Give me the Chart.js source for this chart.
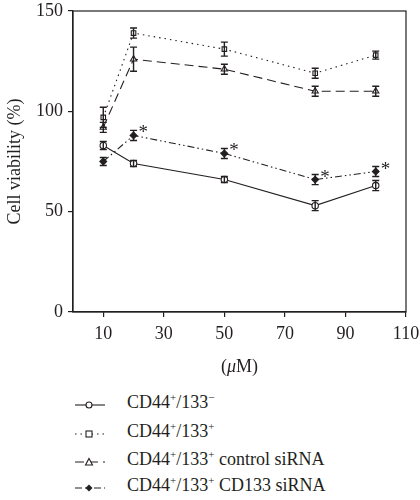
<!DOCTYPE html>
<html>
<head>
<meta charset="utf-8">
<script src="https://cdn.jsdelivr.net/npm/chart.js@4"></script>
<style>
  body { margin:0; background:#fff; width:420px; height:500px; overflow:hidden; font-family:"Liberation Serif", serif; color:#231f20; }
  #legend { position:absolute; left:0; top:392px; width:420px; }
  .row { position:absolute; left:0; height:26px; width:420px; }
  .row svg { position:absolute; left:74px; top:7px; }
  .row span { position:absolute; left:127px; top:0; font-size:18px; white-space:nowrap; }
  sup { font-size:11px; line-height:0; }
</style>
</head>
<body>
<canvas id="chart" width="420" height="385"></canvas>
<div id="legend"></div>
<script>
const doses = [10, 20, 50, 80, 100];
const xTicks = [10, 30, 50, 70, 90, 110];
const yTicks = [0, 50, 100, 150];

const negValues = [83, 74, 66, 53, 63];
const negErr = [2, 1.5, 1.5, 2.5, 2.5];
const posValues = [97, 139, 131, 119, 128];
const posErr = [5, 2.5, 3.5, 2.5, 2];
const ctrlValues = [92, 126, 121, 110, 110];
const ctrlErr = [2.5, 6, 2.5, 2.5, 2.5];
const kdValues = [75, 88, 79, 66, 70];
const kdErr = [2, 2.5, 2.5, 2.5, 2.5];
const kdStars = [false, true, true, true, true];

const seriesNames = [
  "CD44<sup>+</sup>/133<sup>−</sup>",
  "CD44<sup>+</sup>/133<sup>+</sup>",
  "CD44<sup>+</sup>/133<sup>+</sup> control siRNA",
  "CD44<sup>+</sup>/133<sup>+</sup> CD133 siRNA"
];

const ink = "#231f20";
const serif = "'Liberation Serif', serif";

function pts(vals) {
  return doses.map((d, i) => ({ x: d, y: vals[i] }));
}

function makeSet(name, vals, errs, dash, style, filled, radius) {
  return {
    label: name,
    data: pts(vals),
    errs: errs,
    borderColor: ink,
    borderWidth: 1.1,
    borderDash: dash,
    pointStyle: style,
    pointRadius: radius,
    pointBorderWidth: 1.1,
    pointBorderColor: ink,
    pointBackgroundColor: filled ? ink : "#fff",
    fill: false,
    tension: 0
  };
}

const datasets = [
  makeSet("neg", negValues, negErr, [], "circle", false, 3.2),
  makeSet("pos", posValues, posErr, [1.5, 4], "rect", false, 3.2),
  makeSet("ctrl", ctrlValues, ctrlErr, [9, 5], "triangle", false, 3.6),
  makeSet("kd", kdValues, kdErr, [7, 3, 1.5, 3, 1.5, 3], "rectRot", true, 3.4)
];

// error bars, stars, box frame, x title with italic mu
const extras = {
  id: "extras",
  afterDatasetsDraw(chart) {
    const c = chart.ctx;
    const xs = chart.scales.x, ys = chart.scales.y;
    c.save();
    c.strokeStyle = ink;
    c.lineWidth = 1.4;
    c.setLineDash([]);
    chart.data.datasets.forEach(ds => {
      ds.data.forEach((p, i) => {
        const px = xs.getPixelForValue(p.x);
        const top = ys.getPixelForValue(p.y + ds.errs[i]);
        const bot = ys.getPixelForValue(p.y - ds.errs[i]);
        c.beginPath();
        c.moveTo(px, top); c.lineTo(px, bot);
        c.moveTo(px - 3.5, top); c.lineTo(px + 3.5, top);
        c.moveTo(px - 3.5, bot); c.lineTo(px + 3.5, bot);
        c.stroke();
      });
    });
    c.fillStyle = ink;
    c.font = "19px " + serif;
    c.textAlign = "left";
    c.textBaseline = "middle";
    kdStars.forEach((s, i) => {
      if (!s) return;
      const px = xs.getPixelForValue(doses[i]);
      const py = ys.getPixelForValue(kdValues[i] + kdErr[i]);
      c.fillText("*", px + 5, py + 3);
    });
    const a = chart.chartArea;
    c.lineWidth = 1.2;
    c.strokeRect(a.left, a.top, a.right - a.left, a.bottom - a.top);

    // axis title "(μM)"
    const parts = [["(", "18px " + serif], ["μ", "italic 18px " + serif], ["M)", "18px " + serif]];
    let total = 0;
    parts.forEach(p => { c.font = p[1]; total += c.measureText(p[0]).width; });
    let tx = (a.left + a.right) / 2 - total / 2;
    parts.forEach(p => { c.font = p[1]; c.fillText(p[0], tx, 367); tx += c.measureText(p[0]).width; });
    c.restore();
  }
};

new Chart(document.getElementById("chart"), {
  type: "line",
  data: { datasets: datasets },
  options: {
    responsive: false,
    animation: false,
    layout: { padding: { top: 11, right: 14, left: 0, bottom: 0 } },
    plugins: { legend: { display: false }, tooltip: { enabled: false } },
    scales: {
      x: {
        type: "linear",
        min: 0,
        max: 110,
        afterBuildTicks: s => { s.ticks = xTicks.map(v => ({ value: v })); },
        afterFit: s => { s.height = 73; s.paddingLeft = 0; s.paddingRight = 0; },
        grid: { drawOnChartArea: false, tickLength: 5, color: ink, lineWidth: 1.2 },
        border: { color: ink, width: 1.2 },
        ticks: { color: ink, font: { family: serif, size: 18 }, padding: 6, maxRotation: 0 }
      },
      y: {
        min: 0,
        max: 150,
        afterBuildTicks: s => { s.ticks = yTicks.map(v => ({ value: v })); },
        afterFit: s => { s.width = 73; s.paddingTop = 0; s.paddingBottom = 0; },
        grid: { drawOnChartArea: false, tickLength: 5, color: ink, lineWidth: 1.2 },
        border: { color: ink, width: 1.2 },
        ticks: { color: ink, font: { family: serif, size: 18 }, padding: 5 },
        title: { display: true, text: "Cell viability (%)", color: ink, font: { family: serif, size: 18 }, padding: { bottom: 2 } }
      }
    }
  },
  plugins: [extras]
});

// legend: symbol as small svg, label as html text
const legendEl = document.getElementById("legend");
const markerSvg = {
  circle: '<circle cx="15" cy="6" r="3" fill="#fff" stroke="' + ink + '" stroke-width="1.1"/>',
  rect: '<rect x="12" y="3" width="6" height="6" fill="#fff" stroke="' + ink + '" stroke-width="1.1"/>',
  triangle: '<polygon points="15,2.5 18.5,9 11.5,9" fill="#fff" stroke="' + ink + '" stroke-width="1.1"/>',
  rectRot: '<polygon points="15,2.5 18.5,6 15,9.5 11.5,6" fill="' + ink + '"/>'
};
const legendTops = [0, 29, 57, 83];
datasets.forEach((ds, i) => {
  const row = document.createElement("div");
  row.className = "row";
  row.style.top = legendTops[i] + "px";
  const dash = ds.borderDash.length ? ' stroke-dasharray="' + ds.borderDash.join(" ") + '"' : "";
  row.innerHTML =
    '<svg width="32" height="12"><line x1="1" y1="6" x2="31" y2="6" stroke="' + ink + '" stroke-width="1.1"' + dash + '/>' +
    markerSvg[ds.pointStyle] + '</svg><span>' + seriesNames[i] + '</span>';
  legendEl.appendChild(row);
});
</script>
</body>
</html>
